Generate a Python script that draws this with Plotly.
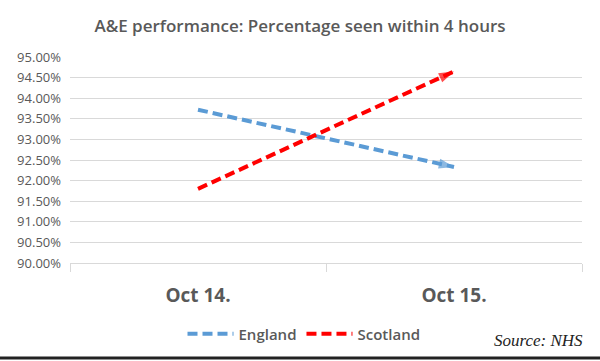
import plotly.graph_objects as go

categories = ["Oct 14.", "Oct 15."]
england = [93.72, 92.33]
scotland = [91.80, 94.65]
y_ticks = [90.0, 90.5, 91.0, 91.5, 92.0, 92.5, 93.0, 93.5, 94.0, 94.5, 95.0]
y_tick_labels = [f"{v:.2f}%" for v in y_ticks]

W, H = 600, 361
L, R, T, B = 70, 18, 57, 97
plot_w = W - L - R
plot_h = H - T - B

grey = "#595959"
xs = list(range(len(categories)))

fig = go.Figure()
for name, vals, color in [("England", england, "#5b9bd5"), ("Scotland", scotland, "#ff0000")]:
    fig.add_trace(go.Scatter(
        x=xs, y=vals, name=name, mode="lines", legendgroup=name,
        line=dict(color=color, width=4, dash="10px,5px"),
    ))
    fig.add_trace(go.Scatter(
        x=xs, y=vals, name=name, mode="markers", legendgroup=name, showlegend=False,
        marker=dict(symbol=["circle", "arrow"], size=[0, 16], angleref="previous",
                    color=color, line=dict(width=0)),
        hoverinfo="skip",
    ))

fig.update_layout(
    width=W, height=H,
    margin=dict(l=L, r=R, t=T, b=B),
    paper_bgcolor="white", plot_bgcolor="white",
    title=dict(text="A&E performance: Percentage seen within 4 hours",
               x=0.5, xanchor="center", y=1 - 26 / H, yanchor="middle",
               font=dict(family="Open Sans", size=17, color=grey, weight=600)),
    showlegend=True,
    legend=dict(orientation="h", x=(304 - L) / plot_w, xanchor="center",
                y=(T + plot_h - 334) / plot_h, yanchor="middle",
                font=dict(family="Open Sans", size=15, color=grey, weight=600),
                itemwidth=46, bgcolor="rgba(0,0,0,0)", tracegroupgap=0),
    xaxis=dict(range=[-0.5, 1.5], tickvals=xs, ticktext=categories,
               showgrid=False, zeroline=False, showline=True, linecolor="#d9d9d9",
               linewidth=1, ticks="", ticklabelstandoff=15,
               tickfont=dict(family="Open Sans", size=19, color=grey, weight="bold"),
               minor=dict(tick0=-0.5, dtick=1, ticks="outside", ticklen=8,
                          tickcolor="#d9d9d9", tickwidth=1, showgrid=False)),
    yaxis=dict(range=[90, 95], tickvals=y_ticks, ticktext=y_tick_labels,
               showgrid=True, gridcolor="#d9d9d9", gridwidth=1, zeroline=False,
               showline=False, ticks="", ticklabelstandoff=8,
               tickfont=dict(family="Open Sans", size=13, color=grey)),
    annotations=[dict(text="<i>Source: NHS</i>", xref="paper", yref="paper",
                      x=(585 - L) / plot_w, xanchor="right",
                      y=(T + plot_h - 342) / plot_h, yanchor="middle", showarrow=False,
                      font=dict(family="Liberation Serif", size=17, color="#222222"))],
    shapes=[dict(type="rect", xref="paper", yref="paper",
                 x0=-L / plot_w, x1=(W - L) / plot_w,
                 ysizemode="pixel", yanchor=(T + plot_h - H) / plot_h, y0=0, y1=3,
                 fillcolor="#222222", line=dict(width=0), layer="above")],
)

fig.write_html("out.html", config={"displayModeBar": False},
               post_script="document.body.style.margin='0';")
